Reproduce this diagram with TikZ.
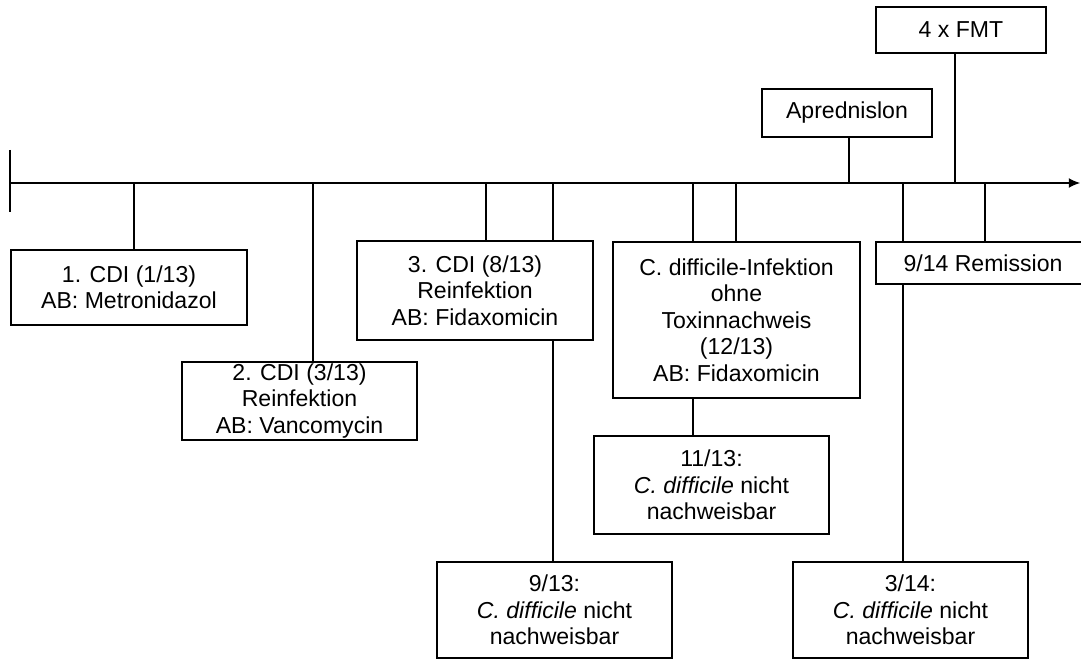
\documentclass[tikz,border=0pt]{standalone}
\usepackage{fontspec}
\setmainfont{Liberation Sans}
\usetikzlibrary{arrows.meta}

\begin{document}
\begin{tikzpicture}[x=0.025cm,y=-0.025cm,line width=0.8pt,
	box/.style={draw,fill=white,align=center,inner sep=0pt,font=\fontsize{16.4}{18.8}\selectfont}]
\useasboundingbox (0,0) rectangle (1081,662);

% time axis
\coordinate (start) at (10,183);
\coordinate (end) at (1080,183);
\coordinate (tickup) at (10,150);
\coordinate (tickdown) at (10,212);
\draw[-{Latex[length=8pt,width=7pt]}] (start) -- (end);
\draw (tickup) -- (tickdown);

% boxes
\node[box,minimum width=5.9cm,minimum height=1.875cm] (cdi1) at (129,287.5) {1. CDI (1/13)\\AB: Metronidazol};
\node[box,minimum width=5.875cm,minimum height=1.95cm] (cdi2) at (299.5,401) {2. CDI (3/13)\\Reinfektion\\AB: Vancomycin};
\node[box,minimum width=5.9cm,minimum height=2.475cm] (cdi3) at (475,290.5) {3. CDI (8/13)\\Reinfektion\\AB: Fidaxomicin};
\node[box,minimum width=6.175cm,minimum height=3.9cm] (cdi4) at (736.5,320) {C. difficile-Infektion\\ohne\\Toxinnachweis\\(12/13)\\AB: Fidaxomicin};
\node[box,minimum width=5.35cm,minimum height=1.05cm] (remission) at (983,263) {9/14 Remission};
\node[box,minimum width=4.25cm,minimum height=1.2cm] (apred) at (847,113) {Aprednislon};
\node[box,minimum width=4.25cm,minimum height=1.15cm] (fmt) at (961,30) {4 x FMT};
\node[box,minimum width=5.875cm,minimum height=2.45cm] (neg1) at (711.5,485) {11/13:\\\textit{C. difficile} nicht\\nachweisbar};
\node[box,minimum width=5.875cm,minimum height=2.4cm] (neg2) at (554.5,610) {9/13:\\\textit{C. difficile} nicht\\nachweisbar};
\node[box,minimum width=5.875cm,minimum height=2.4cm] (neg3) at (910.5,610) {3/14:\\\textit{C. difficile} nicht\\nachweisbar};

% connectors from the axis
\coordinate (t1) at (134,183);
\coordinate (t2) at (313,183);
\coordinate (t3) at (486,183);
\coordinate (t4) at (553,183);
\coordinate (t5) at (693,183);
\coordinate (t6) at (736,183);
\coordinate (t7) at (849,183);
\coordinate (t8) at (903,183);
\coordinate (t9) at (955,183);
\coordinate (t10) at (985,183);

\draw (t1) -- (t1 |- cdi1.north);
\draw (t2) -- (t2 |- cdi2.north);
\draw (t3) -- (t3 |- cdi3.north);
\draw (t4) -- (t4 |- cdi3.north);
\draw (t4 |- cdi3.south) -- (t4 |- neg2.north);
\draw (t5) -- (t5 |- cdi4.north);
\draw (t6) -- (t6 |- cdi4.north);
\draw (t5 |- cdi4.south) -- (t5 |- neg1.north);
\draw (t7) -- (t7 |- apred.south);
\draw (t9) -- (t9 |- fmt.south);
\draw (t8) -- (t8 |- remission.north);
\draw (t10) -- (t10 |- remission.north);
\draw (t8 |- remission.south) -- (t8 |- neg3.north);
\end{tikzpicture}
\end{document}
